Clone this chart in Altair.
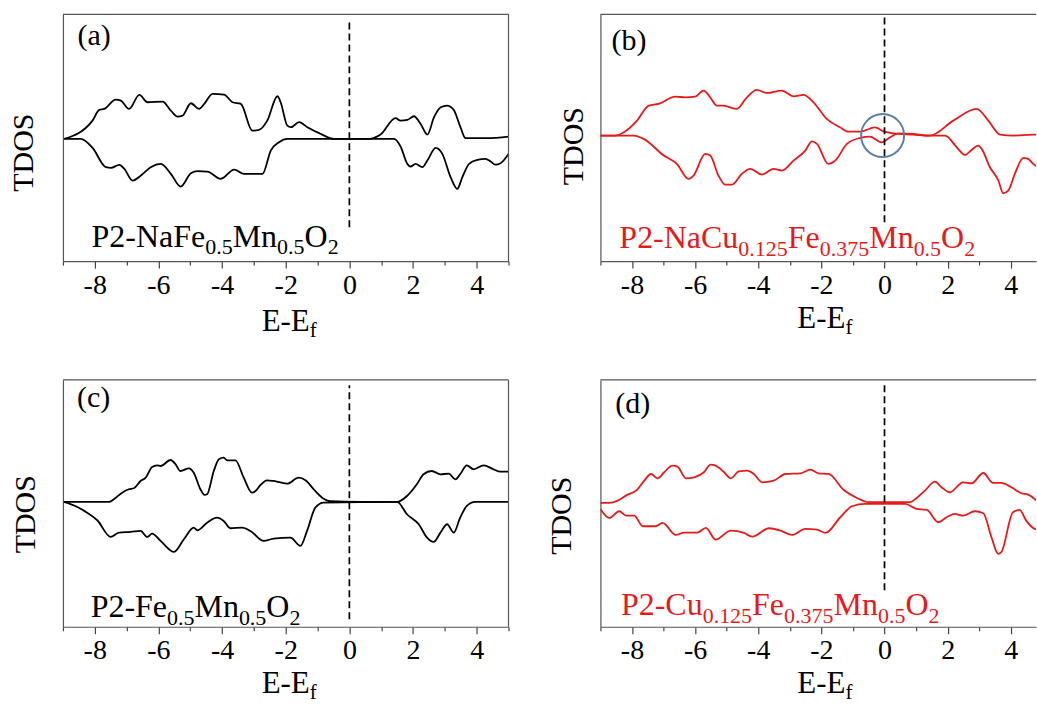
import altair as alt
import pandas as pd

# Spin-resolved total DOS; E - Ef in eV, TDOS in arbitrary units (spin-down drawn negative)

# (a) P2-NaFe0.5Mn0.5O2
A_UP_E = [-8.96, -8.07, -7.86, -7.70, -7.34, -7.18, -6.92, -6.60, -6.34, -5.87, -5.61, -5.40, -5.24, -4.98,
          -4.72, -4.56, -4.30, -3.94, -3.67, -3.41, -3.05, -2.84, -2.58, -2.26, -2.16, -1.95, -1.84, -1.58,
          -1.32, -0.90, -0.48, 0.62, 0.98, 1.45, 1.61, 1.82, 2.03, 2.24, 2.45, 2.66, 2.87, 3.07, 3.28, 3.49,
          3.65, 4.33, 5.0]
A_UP_V = [0, 18.3, 29, 30, 39.3, 38.3, 30, 44, 36.7, 37.3, 28.3, 22.3, 23.3, 35.7, 30, 35, 45, 44.3, 36.7, 35,
          8.3, 9, 18.3, 42.7, 36.7, 13.3, 11.7, 16.7, 11.7, 5, 0, 0, 4.3, 20.7, 18.3, 19, 22.7, 15, 4.3, 21.7,
          31.7, 33.3, 29, 11.7, 0.7, 0.7, 2.3]
A_DN_E = [-8.96, -8.44, -8.07, -7.65, -7.49, -7.23, -7.07, -6.81, -6.55, -6.24, -5.92, -5.61, -5.30, -4.98,
          -4.77, -4.46, -4.04, -3.62, -3.31, -2.73, -2.47, -2.21, -1.95, 1.40, 1.61, 1.82, 1.92, 2.08, 2.29,
          2.45, 2.71, 2.92, 3.18, 3.39, 3.55, 3.76, 4.02, 4.28, 4.44, 4.59, 4.75, 5.0]
A_DN_V = [0, 0, -9, -28.3, -29, -26, -30, -41.7, -36.7, -28.3, -25, -35, -47.7, -34.3, -32.3, -32.7, -40, -30.7,
          -35, -35, -11.7, -3.3, 0, 0, -7.7, -25, -27.7, -25, -28.3, -21.7, -9, -15, -38.3, -50, -38.3, -25,
          -21, -20, -22.7, -25.7, -24.3, -15]

# (b) P2-NaCu0.125Fe0.375Mn0.5O2
B_UP_E = [-9.0, -8.53, -8.26, -7.84, -7.47, -7.16, -6.63, -6.31, -6.00, -5.73, -5.52, -5.31, -5.10, -4.68,
          -4.36, -4.04, -3.73, -3.25, -2.88, -2.57, -2.25, -1.83, -1.41, -1.14, -0.77, -0.30, -0.03, 0.28,
          0.91, 1.44, 2.18, 2.92, 3.29, 3.66, 4.08, 4.71, 4.83]
B_UP_V = [0, 0, 3.3, 15, 30, 31.7, 39, 38.3, 39, 45, 38.3, 30, 30, 26.7, 38.3, 45.7, 42.7, 45, 39.3, 40.7,
          33.3, 16.7, 8.3, 4, 4, 8.3, 4.3, 2.3, 1, 0, 15, 26.7, 15, 1, 0, 1, 1]
B_DN_E = [-9.0, -7.95, -7.63, -6.99, -6.58, -6.21, -6.05, -5.68, -5.52, -5.26, -5.05, -4.83, -4.52, -4.25,
          -3.88, -3.52, -3.25, -2.88, -2.51, -2.30, -2.14, -1.78, -1.56, -1.19, -0.77, -0.46, -0.09, 0.18,
          0.44, 0.91, 1.34, 1.92, 2.29, 2.55, 2.76, 2.97, 3.08, 3.34, 3.61, 3.76, 3.92, 4.13, 4.40, 4.55,
          4.71, 4.83]
B_DN_V = [0, 0, -3.3, -20, -28.3, -43.3, -40, -18.3, -20, -40, -49, -49, -38.3, -33.3, -39, -33.3, -35, -25,
          -15, -5.7, -8.3, -28.3, -25, -8.3, -2.3, -1, -6.7, -1.7, 2.3, 1.7, 0, 0, -11.7, -19.3, -14.3, -10,
          -13.3, -31.7, -45, -57.7, -55, -38.3, -22.3, -23.3, -28.3, -31]

# (c) P2-Fe0.5Mn0.5O2
C_UP_E = [-8.97, -8.55, -7.56, -7.40, -7.14, -6.93, -6.77, -6.56, -6.40, -6.20, -6.04, -5.93, -5.62, -5.46,
          -5.31, -5.04, -4.89, -4.68, -4.55, -4.47, -4.26, -4.10, -3.95, -3.84, -3.58, -3.32, -3.06, -2.95,
          -2.79, -2.59, -2.38, -1.96, -1.59, -1.38, -1.12, -0.81, -0.60, 0.35, 1.50, 1.81, 2.12, 2.33, 2.59,
          2.86, 3.12, 3.33, 3.48, 3.69, 3.90, 4.22, 4.53, 4.74, 5.0]
C_UP_V = [0, 0, 0, 2.7, 9.3, 12.7, 13.7, 21, 24.3, 35, 36.7, 36, 42, 37.7, 31, 33.7, 29.3, 12.7, 7, 7.7, 31,
          42.7, 44.3, 41.7, 41.7, 24.3, 9.3, 11, 17, 21.7, 21, 18.3, 24.3, 21.7, 12.7, 3.3, 0.7, 0, 0, 6, 17.7,
          27.7, 31, 27.7, 28.3, 22.7, 27.7, 36.7, 32.7, 36.7, 32.7, 30.3, 30.3]
C_DN_E = [-8.97, -8.55, -8.24, -7.92, -7.50, -7.24, -6.87, -6.56, -6.35, -6.20, -5.93, -5.51, -5.20, -4.89,
          -4.78, -4.47, -4.16, -3.95, -3.74, -3.37, -3.11, -2.69, -2.38, -1.85, -1.54, -1.33, -1.07, -0.81,
          1.50, 1.81, 2.18, 2.44, 2.65, 2.86, 3.07, 3.28, 3.48, 3.69, 3.95, 5.0]
C_DN_V = [0, -5, -10.7, -18.3, -35, -30.7, -30, -29, -35, -31.7, -39, -50, -37.3, -25.7, -28.3, -20.7, -15.7,
          -19, -26.3, -25.7, -29, -39, -36.7, -35.7, -44, -29, -5.7, -0.7, 0, -12.3, -22.3, -35.7, -40, -30.7,
          -22.3, -30.7, -15.7, -4, 0, 0]

# (d) P2-Cu0.125Fe0.375Mn0.5O2
D_UP_E = [-9.0, -8.72, -8.45, -8.14, -7.87, -7.61, -7.40, -7.19, -6.98, -6.72, -6.56, -6.29, -6.03, -5.72,
          -5.51, -5.35, -5.08, -4.87, -4.61, -4.35, -4.14, -3.88, -3.51, -3.14, -2.66, -2.35, -2.09, -1.77,
          -1.29, -0.87, -0.50, 0.81, 1.02, 1.28, 1.60, 1.81, 2.07, 2.49, 2.76, 3.13, 3.44, 3.70, 4.02, 4.34,
          4.55, 4.83]
D_UP_V = [0, 0, 2.3, 8.3, 12.3, 22.3, 29, 24.7, 30.7, 37.3, 36.3, 24.7, 25.7, 30.7, 38.3, 37.3, 30.7, 24.7,
          31.7, 32.3, 29, 20.7, 22.3, 29, 29.7, 33.3, 29.7, 29, 13, 5, 0.7, 0.7, 5, 12.3, 21.3, 15.7, 10.7,
          20.7, 19.7, 30, 20, 20, 15.7, 9.7, 8.3, 2]
D_DN_E = [-9.0, -8.72, -8.40, -8.19, -7.93, -7.66, -7.24, -7.03, -6.61, -6.35, -5.93, -5.66, -5.35, -4.87,
          -4.45, -4.19, -3.66, -3.29, -2.93, -2.51, -2.14, -1.87, -1.40, -1.03, -0.61, 0.65, 1.02, 1.34, 1.70,
          1.97, 2.23, 2.49, 2.86, 3.13, 3.39, 3.60, 3.70, 4.07, 4.28, 4.49, 4.76, 4.83]
D_DN_V = [-6, -15, -8.3, -12.7, -12.7, -23.3, -23.3, -20, -32, -29.7, -29.7, -25, -36.7, -27.7, -30, -33.7,
          -25.3, -27.7, -32, -26, -26.7, -30, -14.3, -3.3, -1, -1, -6, -7, -19.3, -14.3, -11, -12.7, -8.3,
          -10.3, -34.3, -51, -49.3, -9.3, -7, -17.7, -26, -26.5]

# Panel tags and compound names (subscripted parts flagged True)
TAGS = ["(a)", "(b)", "(c)", "(d)"]
NAME_A = [("P2-NaFe", False), ("0.5", True), ("Mn", False), ("0.5", True), ("O", False), ("2", True)]
NAME_B = [("P2-NaCu", False), ("0.125", True), ("Fe", False), ("0.375", True), ("Mn", False), ("0.5", True),
          ("O", False), ("2", True)]
NAME_C = [("P2-Fe", False), ("0.5", True), ("Mn", False), ("0.5", True), ("O", False), ("2", True)]
NAME_D = [("P2-Cu", False), ("0.125", True), ("Fe", False), ("0.375", True), ("Mn", False), ("0.5", True),
          ("O", False), ("2", True)]
X_TITLE = [("E-E", False), ("f", True)]
Y_TITLE = "TDOS"
X_TICKS_FULL = list(range(-9, 6))
X_TICKS_CUT = list(range(-9, 5))

RED = "#e41b1b"
BLACK = "#000000"
FRAME = "#555555"
CIRCLE = "#5b7fa6"
SERIF = "Liberation Serif"

# Advance widths of the serif face (per 1000 em) for laying out subscripted text
ADV = {"P": 556, "2": 500, "-": 333, "N": 722, "a": 444, "F": 556, "e": 444, "M": 889, "n": 500,
       "O": 722, "C": 667, "u": 500, "0": 500, "1": 500, "3": 500, "5": 500, "7": 500, ".": 250,
       "E": 611, "f": 333}


def text_width(s, size):
    return sum(ADV.get(c, 500) for c in s) / 1000.0 * size


def curves_df(up_e, up_v, dn_e, dn_v):
    up = pd.DataFrame({"E": up_e, "v": up_v})
    up["spin"] = "up"
    dn = pd.DataFrame({"E": dn_e, "v": dn_v})
    dn["spin"] = "down"
    return pd.concat([up, dn], ignore_index=True)


def rich_text(parts, e0, v0, color, x_enc, y_enc, main, sub, drop, center_first=False):
    """Text with subscripts: one text mark per run, advanced by the run widths."""
    layers = []
    offset = -text_width(parts[0][0], main) / 2 if center_first else 0.0
    for txt, is_sub in parts:
        size = sub if is_sub else main
        df = pd.DataFrame({"E": [e0], "v": [v0], "label": [txt]})
        layers.append(
            alt.Chart(df).mark_text(align="left", baseline="alphabetic", font=SERIF, fontSize=size,
                                    color=color, dx=offset, dy=drop if is_sub else 0)
            .encode(x=x_enc, y=y_enc, text="label:N")
        )
        offset += text_width(txt, size)
    return layers


def panel(tag, curves, color, x_max, width, y_dom, dash, title_x, title_y, tag_pos, name, name_pos,
          ticks, right_border, ee_v, circle=None):
    x_enc = alt.X("E:Q", scale=alt.Scale(domain=[-9, x_max], nice=False, zero=False),
                  axis=alt.Axis(values=ticks, title=None, grid=False, labelOverlap=False, labelFlush=False,
                                labelExpr="datum.value % 2 == 0 ? datum.value + '' : ''",
                                tickSize={"condition": {"test": "datum.value % 2 === 0", "value": 7},
                                          "value": 4},
                                labelPadding=3))
    y_enc = alt.Y("v:Q", scale=alt.Scale(domain=y_dom, nice=False, zero=False),
                  axis=alt.Axis(title=Y_TITLE, ticks=False, labels=False, grid=False,
                                titleX=title_x, titleY=title_y, titleBaseline="alphabetic"))

    layers = []
    layers.append(
        alt.Chart(curves).mark_line(color=color, strokeWidth=1.8, clip=True, interpolate="monotone")
        .encode(x=x_enc, y=y_enc, detail="spin:N")
    )
    # frame: top edge (and right edge when the panel is not cut off)
    top = pd.DataFrame({"E": [-9], "E2": [x_max], "v": [y_dom[1]]})
    layers.append(alt.Chart(top).mark_rule(color=FRAME, strokeWidth=1.2)
                  .encode(x=x_enc, x2="E2:Q", y=y_enc))
    if right_border:
        right = pd.DataFrame({"E": [x_max], "v": [y_dom[0]], "v2": [y_dom[1]]})
        layers.append(alt.Chart(right).mark_rule(color=FRAME, strokeWidth=1.2)
                      .encode(x=x_enc, y=y_enc, y2="v2:Q"))
    # Fermi level
    fermi = pd.DataFrame({"E": [0], "v": [dash[0]], "v2": [dash[1]]})
    layers.append(alt.Chart(fermi).mark_rule(color=BLACK, strokeWidth=1.7, strokeDash=[7, 4])
                  .encode(x=x_enc, y=y_enc, y2="v2:Q"))
    if circle is not None:
        cdf = pd.DataFrame({"E": [circle[0]], "v": [circle[1]]})
        layers.append(alt.Chart(cdf).mark_point(shape="circle", filled=False, size=1850, strokeWidth=2,
                                                color=CIRCLE, opacity=1)
                      .encode(x=x_enc, y=y_enc))
    tdf = pd.DataFrame({"E": [tag_pos[0]], "v": [tag_pos[1]], "label": [tag]})
    layers.append(alt.Chart(tdf).mark_text(align="left", baseline="alphabetic", font=SERIF, fontSize=30,
                                           color=BLACK)
                  .encode(x=x_enc, y=y_enc, text="label:N"))
    layers += rich_text(name, name_pos[0], name_pos[1], color, x_enc, y_enc, 32, 22, 8)
    layers += rich_text(X_TITLE, -2.0, ee_v, BLACK, x_enc, y_enc, 31, 21, 6, center_first=True)

    return alt.layer(*layers).properties(width=width, height=247)


pa = panel(TAGS[0], curves_df(A_UP_E, A_UP_V, A_DN_E, A_DN_V), BLACK, 5, 446, [-122.3, 124.7],
           [-88.4, 116.6], -30.3, 137.9, (-8.54, 93.7), NAME_A, (-8.10, -107.7), X_TICKS_FULL, True, -192)
pb = panel(TAGS[1], curves_df(B_UP_E, B_UP_V, B_DN_E, B_DN_V), RED, 4.8, 436, [-125.6, 121.4],
           [-86.7, 118.3], -18.3, 131.4, (-8.65, 85.4), NAME_B, (-8.40, -113.0), X_TICKS_CUT, False, -193,
           circle=(-0.06, 0))
pc = panel(TAGS[2], curves_df(C_UP_E, C_UP_V, C_DN_E, C_DN_V), BLACK, 5, 446, [-124.9, 122.1],
           [-117.3, 116.7], -28.7, 133.9, (-8.56, 95.4), NAME_C, (-8.13, -115.5), X_TICKS_FULL, True, -191)
pd_ = panel(TAGS[3], curves_df(D_UP_E, D_UP_V, D_DN_E, D_DN_V), RED, 4.8, 436, [-123.9, 123.1],
            [-87.3, 117.7], -30.0, 135.4, (-8.53, 89.8), NAME_D, (-8.35, -112.3), X_TICKS_CUT, False, -190)

chart = (
    alt.concat(pa, pb, pc, pd_, columns=2, spacing={"row": 119, "column": 92}, bounds="flush", align="each")
    .properties(padding={"left": 8, "top": 13, "right": 0, "bottom": 0}, background="white")
    .configure_view(stroke=None)
    .configure_axis(labelFont=SERIF, labelFontSize=28, labelColor=BLACK, titleFont=SERIF, titleFontSize=30,
                    titleFontWeight="normal", titleColor=BLACK, domainColor=FRAME, domainWidth=1.2,
                    tickColor="#444444", tickWidth=1.2)
)

chart.save("out.html", embed_options={"renderer": "svg", "actions": False})
